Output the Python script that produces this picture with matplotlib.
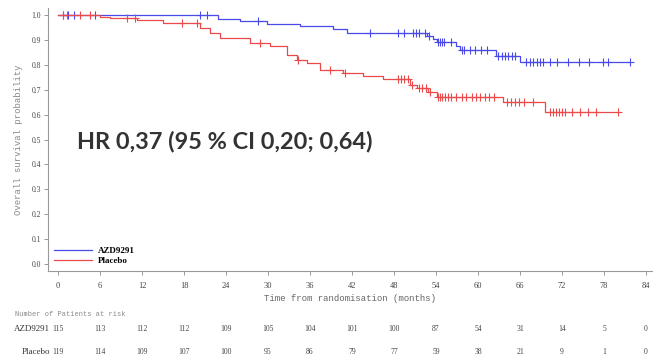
import numpy as np
import matplotlib
matplotlib.use("Agg")
import matplotlib.pyplot as plt
from matplotlib import transforms

# ---- data ----
azd_event_t = [22.9, 26.0, 29.8, 34.6, 39.3, 41.3, 52.7, 53.5, 54.2, 56.8, 57.4, 62.5, 66.0]
azd_event_s = [0.985, 0.976, 0.965, 0.955, 0.945, 0.928, 0.915, 0.905, 0.89, 0.875, 0.86, 0.835, 0.81]
azd_end = 81.7
azd_cens = [0.7, 1.4, 2.3, 5.3, 20.3, 21.3, 28.6, 44.6, 48.6, 49.4, 50.7, 51.1, 51.6, 52.4,
            53.0, 54.3, 54.6, 54.9, 55.1, 56.1, 57.7, 58.0, 58.9, 59.6, 60.4, 61.3, 62.9,
            63.4, 63.9, 64.3, 64.9, 65.3, 66.9, 67.4, 67.9, 68.4, 68.9, 69.3, 70.3, 71.3,
            72.9, 74.4, 75.9, 77.9, 78.6, 81.7]

pla_event_t = [6.0, 7.4, 11.3, 15.0, 20.3, 21.7, 23.1, 27.4, 30.3, 32.7, 34.1, 35.6, 37.4,
               40.7, 43.6, 46.4, 50.3, 51.3, 52.9, 54.1, 63.6, 69.6]
pla_event_s = [0.993, 0.987, 0.98, 0.967, 0.947, 0.928, 0.908, 0.888, 0.874, 0.84, 0.82, 0.807,
               0.78, 0.767, 0.753, 0.743, 0.72, 0.707, 0.69, 0.67, 0.65, 0.61]
pla_end = 80.0
pla_cens = [0.7, 1.3, 3.1, 4.6, 9.9, 11.0, 17.7, 19.9, 28.9, 34.3, 38.9, 41.0, 48.6, 49.0,
            49.4, 50.0, 50.6, 51.6, 52.0, 52.5, 53.2, 54.3, 54.6, 54.9, 55.3, 55.7, 56.1,
            56.9, 57.7, 58.3, 59.1, 59.7, 60.3, 61.0, 61.6, 62.3, 64.1, 64.7, 65.3, 65.9,
            66.6, 67.9, 70.3, 70.7, 71.1, 71.6, 72.0, 72.4, 73.4, 74.6, 75.7, 76.9, 80.0]

risk_times = [0, 6, 12, 18, 24, 30, 36, 42, 48, 54, 60, 66, 72, 78, 84]
azd_risk = [115, 113, 112, 112, 109, 105, 104, 101, 100, 87, 54, 31, 14, 5, 0]
pla_risk = [119, 114, 109, 107, 100, 95, 86, 79, 77, 59, 38, 21, 9, 1, 0]

y_ticks = [0.0, 0.1, 0.2, 0.3, 0.4, 0.5, 0.6, 0.7, 0.8, 0.9, 1.0]
x_ticks = risk_times

blue = "#4a4ae8"
red = "#ea4a4a"


def step_xy(t, s, end):
    xs = [0.0] + list(t) + [end]
    ys = [1.0] + list(s) + [s[-1]]
    return xs, ys


def surv_at(times, t, s):
    t = np.asarray(t)
    s = np.concatenate([[1.0], np.asarray(s)])
    idx = np.searchsorted(t, np.asarray(times), side="right")
    return s[idx]


W, H = 653, 361
fig = plt.figure(figsize=(W / 100, H / 100), dpi=100)
ax = fig.add_axes([48 / W, 1 - 271 / H, (W - 48) / W, (271 - 8) / H])

for t, s, end, cens, col, lab in [
    (azd_event_t, azd_event_s, azd_end, azd_cens, blue, "AZD9291"),
    (pla_event_t, pla_event_s, pla_end, pla_cens, red, "Placebo"),
]:
    xs, ys = step_xy(t, s, end)
    ax.step(xs, ys, where="post", color=col, lw=0.9, label=lab)
    ax.plot(cens, surv_at(cens, t, s), ls="none", marker="+", ms=5.5, mew=0.8, color=col)

ax.set_xlim(-1.43, 85.0)
ax.set_ylim(-0.028, 1.028)
for sp in ["top", "right"]:
    ax.spines[sp].set_visible(False)
for sp in ["left", "bottom"]:
    ax.spines[sp].set_color("#999999")
    ax.spines[sp].set_linewidth(0.8)

ax.set_yticks(y_ticks)
ax.set_yticklabels([f"{v:.1f}" for v in y_ticks], family="Liberation Serif", fontsize=5.5)
ax.set_xticks(x_ticks)
ax.set_xticklabels([str(v) for v in x_ticks], family="Liberation Serif", fontsize=6)
ax.tick_params(axis="both", colors="#888888", length=3, width=0.6, pad=2)
ax.tick_params(axis="x", pad=5)
for lbl in ax.get_xticklabels() + ax.get_yticklabels():
    lbl.set_color("#444444")

ax.set_ylabel("Overall survival probability", family="Liberation Mono", fontsize=6.5,
              color="#888888", labelpad=6)
ax.set_xlabel("Time from randomisation (months)", family="Liberation Mono", fontsize=6.5,
              color="#666666", labelpad=3)

ax.legend(loc="lower left", frameon=False, prop={"family": "Liberation Serif", "weight": "bold", "size": 6.5},
          handlelength=4.2, handletextpad=0.6, labelspacing=0.15, borderaxespad=0.3,
          bbox_to_anchor=(0.0, 0.0))

fig.text(77 / W, 1 - 142 / H, "HR 0,37 (95 % CI 0,20; 0,64)", fontsize=16.9, fontweight="bold",
         family="Lato", color="#333333", va="center", ha="left")

# risk table
tr = transforms.blended_transform_factory(ax.transData, fig.transFigure)
fig.text(15 / W, 1 - 314 / H, "Number of Patients at risk", family="Liberation Mono",
         fontsize=5, color="#888888", va="center", ha="left")
fig.text(50 / W, 1 - 329 / H, "AZD9291", family="Liberation Serif", fontsize=6.5,
         color="#333333", va="center", ha="right")
fig.text(50 / W, 1 - 352 / H, "Placebo", family="Liberation Serif", fontsize=6.5,
         color="#333333", va="center", ha="right")
for xt, a, p in zip(risk_times, azd_risk, pla_risk):
    ax.text(xt, 1 - 329 / H, str(a), transform=tr, family="Liberation Serif", fontsize=5.5,
            color="#444444", ha="center", va="center")
    ax.text(xt, 1 - 352 / H, str(p), transform=tr, family="Liberation Serif", fontsize=5.5,
            color="#444444", ha="center", va="center")

fig.savefig("out.png", dpi=100)
